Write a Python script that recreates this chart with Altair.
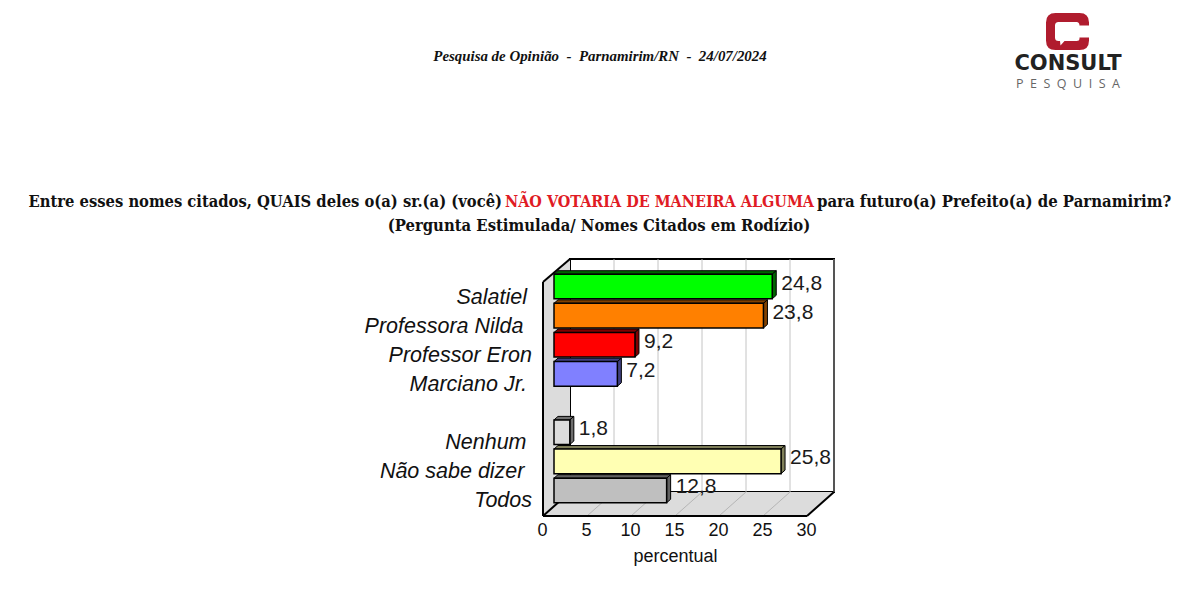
import altair as alt
import pandas as pd

# ---- data ----
NAMES = ["Salatiel", "Professora Nilda", "Professor Eron", "Marciano Jr.", "Nenhum", "Não sabe dizer", "Todos"]
VALUES = [24.8, 23.8, 9.2, 7.2, 1.8, 25.8, 12.8]
VALUE_LABELS = ["24,8", "23,8", "9,2", "7,2", "1,8", "25,8", "12,8"]
ROWS = [0, 1, 2, 3, 5, 6, 7]
AXIS_TICKS = [0, 5, 10, 15, 20, 25, 30]
GRID_TICKS = [5, 10, 15, 20, 25, 30]
FRONT = ["#00ff00", "#ff8000", "#ff0000", "#8080ff", "#dcdcdc", "#ffffb3", "#bfbfbf"]
SHADE = ["#006400", "#804000", "#800000", "#404080", "#6e6e6e", "#80805a", "#606060"]

TITLE_A = "Entre esses nomes citados, QUAIS deles o(a) sr.(a) (você)"
TITLE_B = "NÃO VOTARIA DE MANEIRA ALGUMA"
TITLE_C = "para futuro(a) Prefeito(a) de Parnamirim?"
TITLE_2 = "(Pergunta Estimulada/ Nomes Citados em Rodízio)"
HEADER = "Pesquisa de Opinião\u00a0 -\u00a0 Parnamirim/RN\u00a0 -\u00a0 24/07/2024"

# ---- scale geometry (page pixels -> data units) ----
PX_X0, PX_PER_UNIT = 543.0, 8.8
PX_Y0, PX_PER_ROW = 286.5, 29.14
M = 8
# the category labels do not share one right edge in the source
LABEL_RIGHT_PX = [527, 523.5, 532, 527, 526.5, 524.5, 532]


def X(px):
    return (px - PX_X0) / PX_PER_UNIT


def Y(py):
    return (py - PX_Y0) / PX_PER_ROW


x_scale = alt.Scale(domain=[0, 30], range=[PX_X0 - M, PX_X0 + 30 * PX_PER_UNIT - M], nice=False, zero=False)
y_scale = alt.Scale(domain=[0, 7], range=[PX_Y0 - M, PX_Y0 + 7 * PX_PER_ROW - M], nice=False, zero=False)
xq = lambda f, **k: alt.X(f, type="quantitative", scale=x_scale, title=None, axis=None, **k)
yq = lambda f: alt.Y(f, type="quantitative", scale=y_scale, title=None, axis=None)

BASE = X(554)            # bars stand on a plane 11 px in front of the wall
DX, DY = 4 / PX_PER_UNIT, 3.5 / PX_PER_ROW   # bar depth
HALF = 12.3 / PX_PER_ROW

bars = pd.DataFrame({
    "name": NAMES, "rank": ROWS, "value": VALUES, "label": VALUE_LABELS,
    "front": FRONT, "shade": SHADE,
})
bars["x0"] = BASE
bars["x1"] = BASE + bars["value"]
bars["top"] = bars["rank"] - HALF
bars["bot"] = bars["rank"] + HALF
bars["lx"] = [X(p) for p in LABEL_RIGHT_PX]

top_rows, side_rows = [], []
for r in bars.itertuples():
    top_rows += [
        dict(name=r.name, shade=r.shade, y=r.top, xa=r.x0, xb=r.x1),
        dict(name=r.name, shade=r.shade, y=r.top - DY, xa=r.x0 + DX, xb=r.x1 + DX),
    ]
    side_rows += [
        dict(name=r.name, shade=r.shade, x=r.x1, ya=r.top, yb=r.bot),
        dict(name=r.name, shade=r.shade, x=r.x1 + DX, ya=r.top - DY, yb=r.bot - DY),
    ]
top_df, side_df = pd.DataFrame(top_rows), pd.DataFrame(side_rows)

# ---- 3-D box ----
WL, WR, WT, WB = X(570), X(834), Y(259), Y(492)
FL, FR, FT, FB = X(543), X(807), Y(282), Y(516)
WALL_FILL = "#dcdcdc"

back_df = pd.DataFrame([dict(xa=WL, xb=WR, ya=WT, yb=WB)])
left_wall = pd.DataFrame([dict(x=FL, ya=FT, yb=FB), dict(x=WL, ya=WT, yb=WB)])
floor = pd.DataFrame([dict(y=FB, xa=FL, xb=FR), dict(y=WB, xa=WL, xb=WR)])
grid = pd.DataFrame([dict(x=WL + v, ya=WT, yb=WB) for v in GRID_TICKS])
floor_grid = pd.DataFrame([dict(xa=FL + v, ya=FB, xb=WL + v, yb=WB) for v in GRID_TICKS])
edges = pd.DataFrame([
    dict(xa=FL, ya=FT, xb=WL, yb=WT),
    dict(xa=FL, ya=FT, xb=FL, yb=FB),
    dict(xa=FL, ya=FB, xb=WL, yb=WB),
    dict(xa=FL, ya=FB, xb=FR, yb=FB),
    dict(xa=FR, ya=FB, xb=WR, yb=WB),
])

layers = [
    alt.Chart(back_df).mark_rect(fill="white", stroke="black", strokeWidth=2).encode(
        x=xq("xa"), x2="xb", y=yq("ya"), y2="yb"),
    alt.Chart(grid).mark_rule(color="#bdbdbd", strokeWidth=0.9).encode(x=xq("x"), y=yq("ya"), y2="yb"),
    alt.Chart(left_wall).mark_area(fill=WALL_FILL, orient="vertical").encode(x=xq("x"), y=yq("ya"), y2="yb"),
    alt.Chart(floor).mark_area(fill=WALL_FILL, orient="horizontal").encode(y=yq("y"), x=xq("xa"), x2="xb"),
    alt.Chart(floor_grid).mark_rule(color="#b0b0b0", strokeWidth=0.9).encode(x=xq("xa"), x2="xb", y=yq("ya"), y2="yb"),
    alt.Chart(edges).mark_rule(color="black", strokeWidth=2).encode(x=xq("xa"), x2="xb", y=yq("ya"), y2="yb"),
    alt.Chart(top_df).mark_area(stroke="black", strokeWidth=1, orient="horizontal").encode(
        y=yq("y"), x=xq("xa"), x2="xb", detail="name:N", fill=alt.Fill("shade:N", scale=None)),
    alt.Chart(side_df).mark_area(stroke="black", strokeWidth=1, orient="vertical").encode(
        x=xq("x"), y=yq("ya"), y2="yb", detail="name:N", fill=alt.Fill("shade:N", scale=None)),
    alt.Chart(bars).mark_bar(stroke="black", strokeWidth=1.5).encode(
        x=xq("x0"), x2="x1", y=yq("top"), y2="bot", fill=alt.Fill("front:N", scale=None)),
    # value labels
    alt.Chart(bars).mark_text(align="left", baseline="middle", font="Liberation Sans", fontSize=21,
                              color="#1a1a1a", xOffset=9, yOffset=-3).encode(
        x=xq("x1"), y=yq("rank"), text="label:N"),
    # category labels
    alt.Chart(bars).mark_text(align="right", baseline="middle", font="Liberation Sans",
                              fontStyle="italic", fontSize=21.5, color="#111111", yOffset=11).encode(
        x=xq("lx"), y=yq("rank"), text="name:N"),
]

# real value axis, moved up onto the front edge of the floor
axis_df = pd.DataFrame({"v": AXIS_TICKS})
layers.append(
    alt.Chart(axis_df).mark_point(opacity=0).encode(
        x=alt.X("v:Q", scale=x_scale, axis=alt.Axis(
            values=AXIS_TICKS, title="percentual", domain=False, ticks=False, grid=False,
            labelFont="Liberation Sans", labelFontSize=18, labelColor="#111111", labelPadding=5, labelFlush=False,
            labelOffset=-1,
            titleFont="Liberation Sans", titleFontSize=18, titleFontWeight="normal", titleColor="#111111", titlePadding=8,
            orient="bottom", offset=-(593 - 16 - (516 - M)))),
        y=alt.value(0),
    )
)


def note(text, px, py, **kw):
    return alt.Chart(pd.DataFrame({"t": [text]})).mark_text(baseline="middle", **kw).encode(
        x=alt.value(px - M), y=alt.value(py - M), text="t:N")


SERIF = "DejaVu Serif Condensed"
layers += [
    note(HEADER, 600, 57, align="center", font="Liberation Serif", fontSize=14.9, fontWeight="bold", fontStyle="italic", color="#111111"),
    note(TITLE_A, 502, 202, align="right", font=SERIF, fontSize=16.4, fontWeight="bold", color="#111111"),
    note(TITLE_B, 659.5, 202, align="center", font=SERIF, fontSize=16, fontWeight="bold", color="#e01b24"),
    note(TITLE_C, 817, 202, align="left", font=SERIF, fontSize=16.6, fontWeight="bold", color="#111111"),
    note(TITLE_2, 599, 226, align="center", font=SERIF, fontSize=16.5, fontWeight="bold", color="#111111"),
    note("CONSULT", 1068, 64, align="center", font="DejaVu Sans", fontSize=21, fontWeight="bold", color="#222222"),
    note("P\u00a0 E\u00a0 S\u00a0 Q\u00a0 U\u00a0 I\u00a0 S\u00a0 A", 1068, 84, align="center", font="Open Sans", fontSize=12.5, color="#666666"),
]

# logo: rounded "C" with a speech-bubble notch, as a custom symbol
R = 21.5
pts = ("M21.5 -6 L21.5 -9 Q21.5 -18.5 12 -18.5 L-12 -18.5 Q-21.5 -18.5 -21.5 -9 L-21.5 9 Q-21.5 18.5 -12 18.5 "
       "L12 18.5 Q21.5 18.5 21.5 9 L21.5 6 L12 6 L12 7 Q12 9.5 9 9.5 L-3 9.5 L-7 14 L-7.5 9.5 L-9 9.5 "
       "Q-12.5 9.5 -12.5 6 L-12.5 -6 Q-12.5 -9.5 -9 -9.5 L9 -9.5 Q12 -9.5 12 -6")
parts = []
for tok in pts.split():
    head = tok[0] if tok[0].isalpha() else ""
    num = float(tok[1:] if head else tok) / R
    parts.append(f"{head}{num:.4f}")
LOGO = " ".join(parts) + " Z"
layers.append(
    alt.Chart(pd.DataFrame({"k": [1]})).mark_point(shape=LOGO, filled=True, fill="#b01c2e", opacity=1, size=(2 * R) ** 2)
    .encode(x=alt.value(1067.5 - M), y=alt.value(31.5 - M))
)

chart = alt.layer(*layers).resolve_axis(x="independent", y="independent").properties(
    width=1181, height=577, padding=0, autosize=alt.AutoSizeParams(type="none"), background="white"
).configure_view(stroke=None)

chart.save("out.html", embed_options={"renderer": "svg", "actions": False})
